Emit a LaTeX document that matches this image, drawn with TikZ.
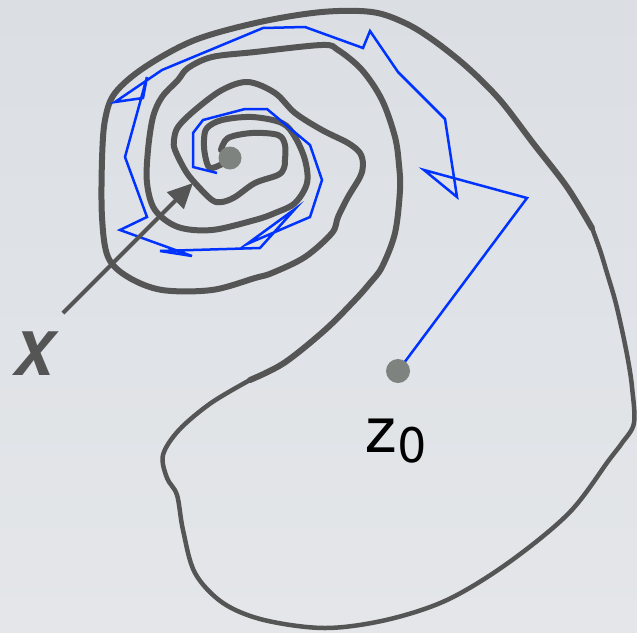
\documentclass[tikz,border=0pt]{standalone}
\usepackage{fontspec}
\setmainfont{TeX Gyre Heros}
\usetikzlibrary{arrows.meta}
\definecolor{bgtop}{RGB}{219,223,228}
\definecolor{bgbot}{RGB}{228,230,233}
\definecolor{curvegray}{RGB}{85,85,85}
\definecolor{dotgray}{RGB}{126,131,128}
\definecolor{walkblue}{RGB}{0,51,255}
\tikzset{
  spiral/.style={draw=curvegray, line width=6pt, line cap=round, line join=round},
  rim/.style={draw=curvegray, line width=4.5pt, line cap=round, line join=round},
  walk/.style={draw=walkblue, line width=2.5pt, line join=miter},
  pointdot/.style={fill=dotgray},
  pointer/.style={draw=curvegray, line width=4pt, -{Triangle[length=25pt,width=23pt]}},
}
\begin{document}
\begin{tikzpicture}[x=1pt,y=-1pt]
\useasboundingbox (0,0) rectangle (637,632);
\shade[top color=bgtop, bottom color=bgbot] (0,0) rectangle (637,632);
% arm A
\draw[spiral] plot[smooth, tension=0.55] coordinates {(224,163) (210,168) (205,155) (204,140) (207,128) (222,120) (252,117) (282,123) (295,137) (305,160) (307,183) (295,203) (275,213) (255,220) (212,230) (178,227) (155,210) (147,183) (148,150) (153,117) (162,97) (178,80) (188,68) (212,57) (255,52) (322,45) (338,50) (362,70) (382,100) (395,137) (399,165) (400,190) (395,233) (382,267) (370,283) (355,300) (325,330) (284,363) (250,380)};
% arm B
\draw[spiral] plot[smooth, tension=0.55] coordinates {(221,150) (228,138) (252,133) (278,135) (285,145) (285,160) (284,168) (278,175) (255,183) (235,197) (222,202) (212,200) (195,183) (185,170) (175,150) (174,140) (178,127) (195,110) (222,90) (248,82) (275,93) (295,113) (322,130) (348,143) (360,153) (363,165) (360,177) (348,197) (338,217) (332,233) (305,257) (272,273) (255,278) (212,290) (162,290) (128,277) (108,257) (102,217) (102,160) (105,120) (115,93) (145,67) (195,40) (260,22) (322,12) (372,12) (405,23) (433,40) (467,67) (500,100) (533,143) (567,187) (592,228)};
% outer rim
\draw[rim] plot[smooth, tension=0.55] coordinates {(592,228) (600,250) (607,273) (615,300) (622,330) (628,360) (632,387) (634,423) (622,443) (609,460) (569,513) (508,563) (447,600) (386,620) (325,628) (264,620) (223,603) (195,573) (183,530) (177,495) (167,478) (163,455) (179,430) (211,403) (250,380)};
% points
\coordinate (zc) at (398,371);
\coordinate (cc) at (230,158);
\coordinate (xs) at (63,313);
\coordinate (xt) at (193,183);
% random walk
\draw[walk] (zc) -- (527,198) -- (424,170) -- (457,197) -- (445,119) -- (398,72) -- (370,31) -- (363,48) -- (305,27) -- (263,28) -- (162,70) -- (115,102) -- (143,98) -- (147,77) -- (125,157) -- (147,217) -- (120,230) -- (192,256) -- (160,251) -- (260,248) -- (295,209) -- (247,244) -- (310,217) -- (322,180) -- (310,145) -- (267,109) -- (245,109) -- (203,120) -- (193,133) -- (193,167) -- (217,173);
\fill[pointdot] (zc) circle (12);
\fill[pointdot] (cc) circle (11.5);
% arrow
\draw[pointer] (xs) -- (xt);
% labels
\node[anchor=base west, inner sep=0, text=curvegray, font=\fontsize{60}{60}\selectfont\bfseries\itshape] (xl) at (13,375) {X};
\node[anchor=base west, inner sep=0, font=\fontsize{64}{64}\selectfont] (zl) at (365,452) {z};
\node[anchor=base west, inner sep=0, font=\fontsize{50}{50}\selectfont] (zs) at (398,462) {0};
\end{tikzpicture}
\end{document}
